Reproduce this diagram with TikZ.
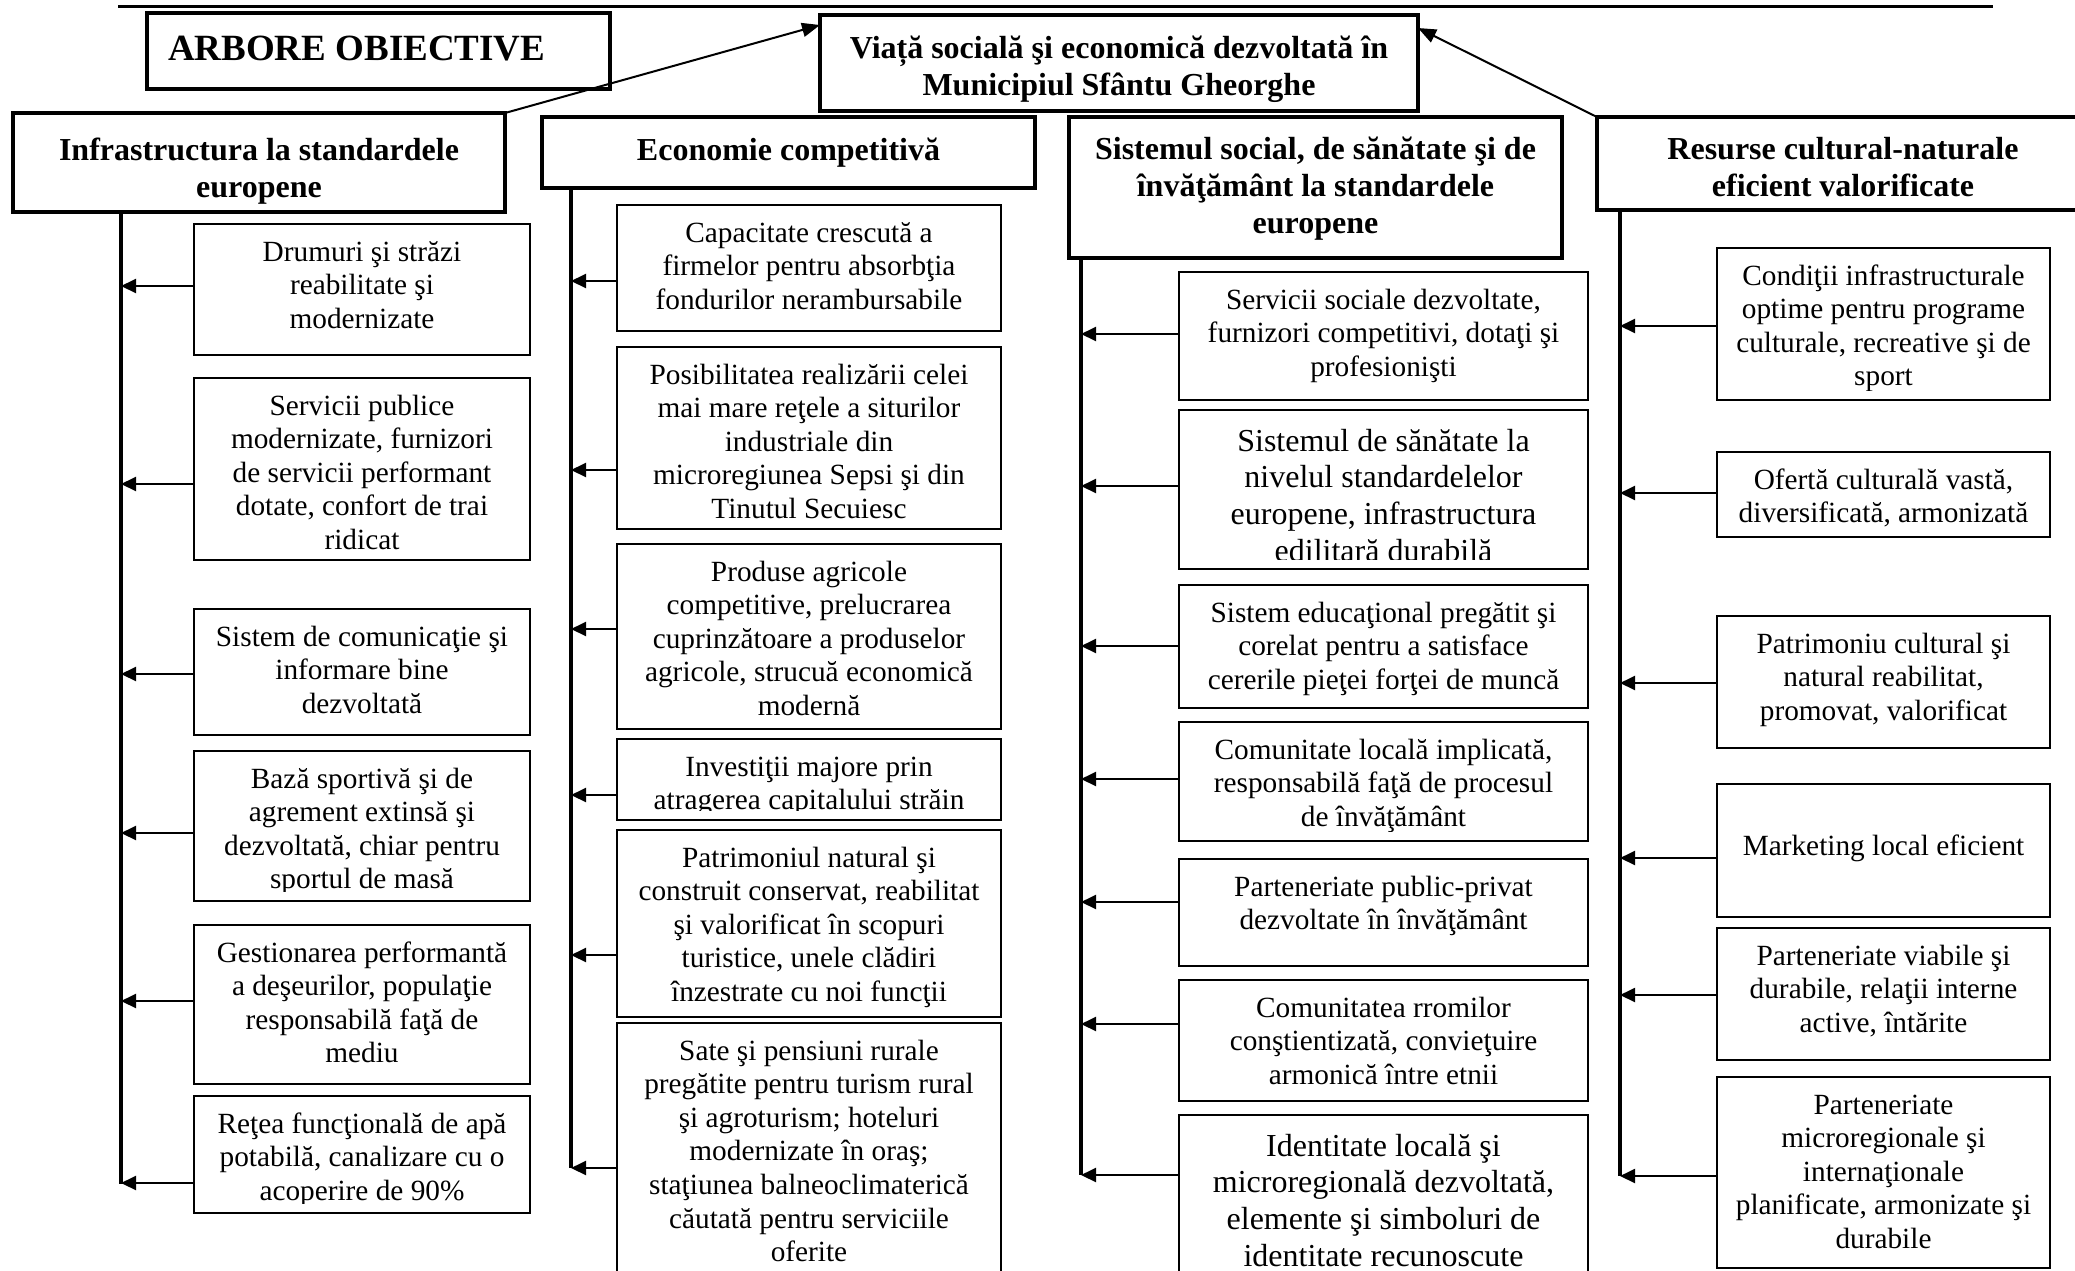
\documentclass[tikz,border=0pt]{standalone}
\usepackage{fontspec}
\setmainfont{Liberation Serif}
\usetikzlibrary{arrows.meta}

\newcommand{\fbody}{\fontsize{29.3}{33.6}\selectfont}
\newcommand{\fbig}{\fontsize{32}{36.8}\selectfont}
\newcommand{\fhead}{\bfseries\fontsize{32}{37}\selectfont}
\newcommand{\ftitle}{\bfseries\fontsize{37}{42}\selectfont}

\tikzset{
  leaf/.style={draw=black, line width=2pt, inner sep=0pt, outer sep=0pt},
  head/.style={draw=black, line width=3.6pt, inner sep=0pt, outer sep=0pt},
  txt/.style={inner sep=0pt, outer sep=0pt},
  spine/.style={line width=3.6pt},
  arrline/.style={line width=2pt, -{Triangle[length=15pt,width=14pt]}},
  bigarrow/.style={line width=2pt, -{Triangle[length=18pt,width=14pt]}},
  topruled/.style={line width=3pt},
}

% #1 name, #2 x1, #3 y1, #4 x2, #5 y2, #6 font, #7 first-baseline offset, #8 text
\newcommand{\leafbox}[8]{%
  \node[leaf, minimum width={(#4)-(#2)}, minimum height={(#5)-(#3)}] (#1) at ({((#2)+(#4))/2},{((#3)+(#5))/2}) {};
  \begin{scope}
    \clip (#2,#3) rectangle (#4,{(#5)-10});
    \node[txt, font=#6, anchor=base] (#1-t) at ({((#2)+(#4))/2},{(#3)+(#7)}) {\begin{tabular}[t]{@{}c@{}}#8\end{tabular}};
  \end{scope}
}
% #1 name, #2 x1, #3 y1, #4 x2, #5 y2, #6 first-baseline offset, #7 text
\newcommand{\headbox}[7]{%
  \node[head, minimum width={(#4)-(#2)}, minimum height={(#5)-(#3)}] (#1) at ({((#2)+(#4))/2},{((#3)+(#5))/2}) {};
  \node[txt, font=\fhead, anchor=base] (#1-t) at ({((#2)+(#4))/2},{(#3)+(#6)}) {\begin{tabular}[t]{@{}c@{}}#7\end{tabular}};
}
% #1 box, #2 spine coordinate, #3 y
\newcommand{\leafarrow}[3]{\draw[arrline] (#1.west |- 0,#3) -- (#2 |- 0,#3);}

\begin{document}
\begin{tikzpicture}[x=1pt,y=-1pt]
\fill[white] (0,0) rectangle (2075,1270);
\useasboundingbox (0,0) rectangle (2075,1270);
\clip (0,0) rectangle (2075,1270);

% top rule
\coordinate (tl1) at (118,6);
\coordinate (tl2) at (1993,6);
\draw[topruled] (tl1) -- (tl2);

% title
\node[head, minimum width=463, minimum height=76] (title) at (378.5,51) {};
\node[txt, font=\ftitle, anchor=base west] (title-t) at (168,60) {ARBORE OBIECTIVE};

% root and headers
\headbox{root}{820}{15}{1418}{111}{43}{Viață socială şi economică dezvoltată în\\Municipiul Sfântu Gheorghe}
\headbox{h1}{13}{113}{505}{212}{47}{Infrastructura la standardele\\europene}
\headbox{h2}{542}{117}{1035}{188}{43}{Economie competitivă}
\headbox{h3}{1069}{117}{1562}{258}{42}{Sistemul social, de sănătate şi de\\învăţământ la standardele\\europene}
\headbox{h4}{1597}{117}{2089}{210}{42}{Resurse cultural-naturale\\eficient valorificate}

\draw[bigarrow] (h1.north east) -- (root.west |- 0,25);
\draw[bigarrow] (h4.north west) -- (root.east |- 0,28);

% spines
\coordinate (s1a) at (121,212);  \coordinate (s1b) at (121,1184);
\coordinate (s2a) at (571,188);  \coordinate (s2b) at (571,1168);
\coordinate (s3a) at (1081,258); \coordinate (s3b) at (1081,1175);
\coordinate (s4a) at (1620,210); \coordinate (s4b) at (1620,1176);
\draw[spine] (s1a) -- (s1b);
\draw[spine] (s2a) -- (s2b);
\draw[spine] (s3a) -- (s3b);
\draw[spine] (s4a) -- (s4b);

% column 1
\leafbox{c1a}{194}{224}{530}{355}{\fbody}{37}{Drumuri şi străzi\\reabilitate şi\\modernizate}
\leafbox{c1b}{194}{378}{530}{560}{\fbody}{37}{Servicii publice\\modernizate, furnizori\\de servicii performant\\dotate, confort de trai\\ridicat}
\leafbox{c1c}{194}{609}{530}{735}{\fbody}{37}{Sistem de comunicaţie şi\\informare bine\\dezvoltată}
\leafbox{c1d}{194}{751}{530}{901}{\fbody}{37}{Bază sportivă şi de\\agrement extinsă şi\\dezvoltată, chiar pentru\\sportul de masă}
\leafbox{c1e}{194}{925}{530}{1084}{\fbody}{37}{Gestionarea performantă\\a deşeurilor, populaţie\\responsabilă faţă de\\mediu}
\leafbox{c1f}{194}{1096}{530}{1213}{\fbody}{37}{Reţea funcţională de apă\\potabilă, canalizare cu o\\acoperire de 90\%}
\leafarrow{c1a}{s1a}{286}
\leafarrow{c1b}{s1a}{484}
\leafarrow{c1c}{s1a}{674}
\leafarrow{c1d}{s1a}{833}
\leafarrow{c1e}{s1a}{1001}
\leafarrow{c1f}{s1a}{1183}

% column 2
\leafbox{c2a}{617}{205}{1001}{331}{\fbody}{37}{Capacitate crescută a\\firmelor pentru absorbţia\\fondurilor nerambursabile}
\leafbox{c2b}{617}{347}{1001}{529}{\fbody}{37}{Posibilitatea realizării celei\\mai mare reţele a siturilor\\industriale din\\microregiunea Sepsi şi din\\Tinutul Secuiesc}
\leafbox{c2c}{617}{544}{1001}{729}{\fbody}{37}{Produse agricole\\competitive, prelucrarea\\cuprinzătoare a produselor\\agricole, strucuă economică\\modernă}
\leafbox{c2d}{617}{739}{1001}{820}{\fbody}{37}{Investiţii majore prin\\atragerea capitalului străin}
\leafbox{c2e}{617}{830}{1001}{1017}{\fbody}{37}{Patrimoniul natural şi\\construit conservat, reabilitat\\şi valorificat în scopuri\\turistice, unele clădiri\\înzestrate cu noi funcţii}
\leafbox{c2f}{617}{1023}{1001}{1300}{\fbody}{37}{Sate şi pensiuni rurale\\pregătite pentru turism rural\\şi agroturism; hoteluri\\modernizate în oraş;\\staţiunea balneoclimaterică\\căutată pentru serviciile\\oferite}
\leafarrow{c2a}{s2a}{281}
\leafarrow{c2b}{s2a}{470}
\leafarrow{c2c}{s2a}{629}
\leafarrow{c2d}{s2a}{795}
\leafarrow{c2e}{s2a}{955}
\leafarrow{c2f}{s2a}{1168}

% column 3
\leafbox{c3a}{1179}{272}{1588}{400}{\fbody}{37}{Servicii sociale dezvoltate,\\furnizori competitivi, dotaţi şi\\profesionişti}
\leafbox{c3b}{1179}{410}{1588}{569}{\fbig}{41}{Sistemul de sănătate la\\nivelul standardelelor\\europene, infrastructura\\edilitară durabilă}
\leafbox{c3c}{1179}{585}{1588}{708}{\fbody}{37}{Sistem educaţional pregătit şi\\corelat pentru a satisface\\cererile pieţei forţei de muncă}
\leafbox{c3d}{1179}{722}{1588}{841}{\fbody}{37}{Comunitate locală implicată,\\responsabilă faţă de procesul\\de învăţământ}
\leafbox{c3e}{1179}{859}{1588}{966}{\fbody}{37}{Parteneriate public-privat\\dezvoltate în învăţământ}
\leafbox{c3f}{1179}{980}{1588}{1101}{\fbody}{37}{Comunitatea rromilor\\conştientizată, convieţuire\\armonică între etnii}
\leafbox{c3g}{1179}{1115}{1588}{1300}{\fbig}{41}{Identitate locală şi\\microregională dezvoltată,\\elemente şi simboluri de\\identitate recunoscute}
\leafarrow{c3a}{s3a}{334}
\leafarrow{c3b}{s3a}{486}
\leafarrow{c3c}{s3a}{646}
\leafarrow{c3d}{s3a}{779}
\leafarrow{c3e}{s3a}{902}
\leafarrow{c3f}{s3a}{1024}
\leafarrow{c3g}{s3a}{1175}

% column 4
\leafbox{c4a}{1717}{248}{2050}{400}{\fbody}{37}{Condiţii infrastructurale\\optime pentru programe\\culturale, recreative şi de\\sport}
\leafbox{c4b}{1717}{452}{2050}{537}{\fbody}{37}{Ofertă culturală vastă,\\diversificată, armonizată}
\leafbox{c4c}{1717}{616}{2050}{748}{\fbody}{37}{Patrimoniu cultural şi\\natural reabilitat,\\promovat, valorificat}
\leafbox{c4d}{1717}{784}{2050}{917}{\fbody}{71}{Marketing local eficient}
\leafbox{c4e}{1717}{928}{2050}{1060}{\fbody}{37}{Parteneriate viabile şi\\durabile, relaţii interne\\active, întărite}
\leafbox{c4f}{1717}{1077}{2050}{1268}{\fbody}{37}{Parteneriate\\microregionale şi\\internaţionale\\planificate, armonizate şi\\durabile}
\leafarrow{c4a}{s4a}{326}
\leafarrow{c4b}{s4a}{493}
\leafarrow{c4c}{s4a}{683}
\leafarrow{c4d}{s4a}{858}
\leafarrow{c4e}{s4a}{995}
\leafarrow{c4f}{s4a}{1176}
\end{tikzpicture}
\end{document}
